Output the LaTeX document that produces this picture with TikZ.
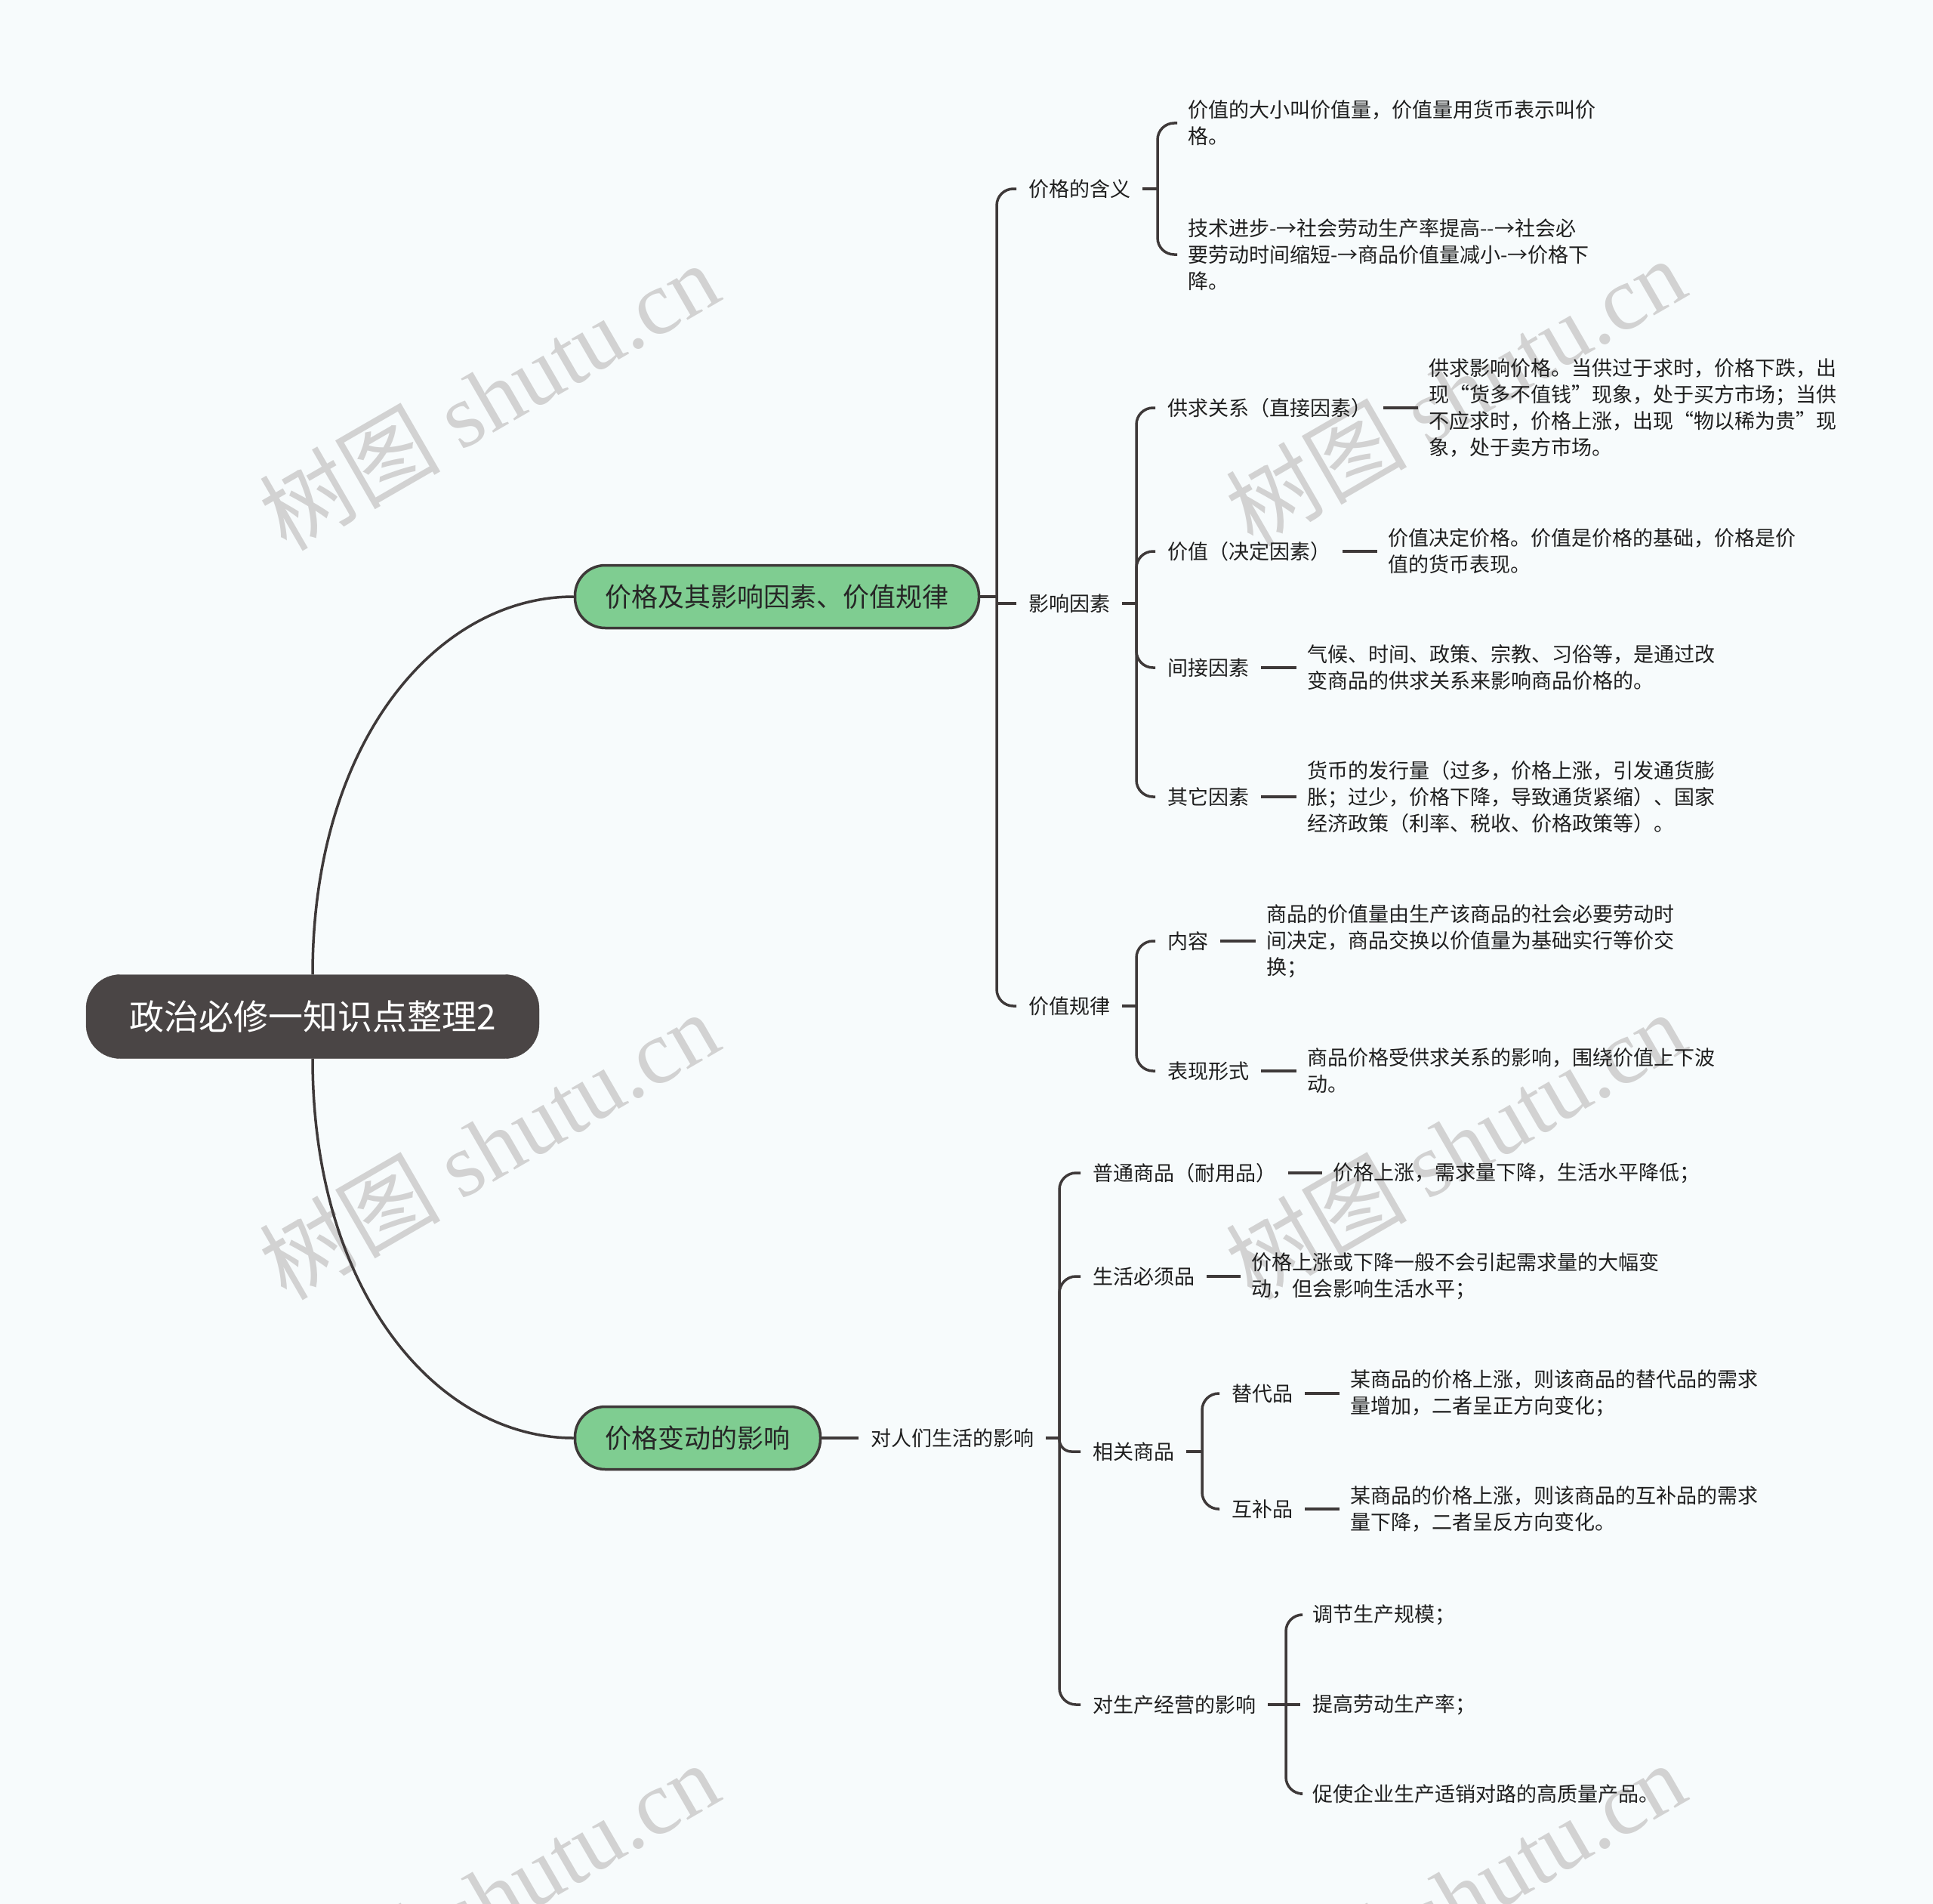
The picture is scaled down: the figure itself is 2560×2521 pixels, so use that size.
\documentclass[tikz,border=0pt]{standalone}
\usepackage{fontspec}
\setmainfont{Noto Sans CJK SC}
\newfontfamily\wmlatin{Liberation Serif}
\definecolor{bg}{HTML}{F7FBFC}
\definecolor{lnc}{HTML}{3E3939}
\definecolor{rootc}{HTML}{4A4545}
\definecolor{grn}{HTML}{7FCD91}
\definecolor{wmc}{HTML}{D2D2D2}
\tikzset{
  conn/.style={draw=lnc, line width=3.5pt},
  elbow/.style={conn, rounded corners=22pt},
  rootbox/.style={fill=rootc, draw=rootc, rounded corners=45pt, minimum width=600pt, minimum height=111pt, text=white, font=\fontsize{46pt}{56pt}\selectfont, inner sep=0pt},
  topic/.style={fill=grn, draw=lnc, line width=3.5pt, rounded corners=40pt, minimum height=83pt, inner xsep=40pt, inner ysep=0pt, text=black!85, font=\fontsize{35pt}{42pt}\selectfont},
  lbl/.style={anchor=west, inner xsep=16pt, inner ysep=4pt, font=\fontsize{27pt}{35pt}\selectfont, text=black!88},
  desc/.style={anchor=west, inner xsep=14pt, inner ysep=4pt, align=left, font=\fontsize{27pt}{35pt}\selectfont, text=black!88},
  wm/.style={rotate=30, text=wmc, font=\fontsize{120pt}{120pt}\selectfont}
}
\begin{document}
\begin{tikzpicture}[x=1pt,y=-1pt]
\fill[bg] (0,0) rectangle (2560,2521);
\useasboundingbox (0,0) rectangle (2560,2521);

% watermarks
\node[wm] (w1) at (647,524) {树图 {\wmlatin shutu.cn}};
\node[wm] (w2) at (1927,518) {树图 {\wmlatin shutu.cn}};
\node[wm] (w3) at (647,1516) {树图 {\wmlatin shutu.cn}};
\node[wm] (w4) at (1927,1516) {树图 {\wmlatin shutu.cn}};
\node[wm] (w5) at (647,2510) {树图 {\wmlatin shutu.cn}};
\node[wm] (w6) at (1927,2510) {树图 {\wmlatin shutu.cn}};

% main nodes
\node[rootbox] (root) at (414,1346) {政治必修一知识点整理2};
\node[topic, minimum width=534pt] (t1) at (1029,790) {价格及其影响因素、价值规律};
\node[topic, minimum width=324pt] (t2) at (924,1904) {价格变动的影响};

% branch 1
\node[lbl] (a1) at (1346,250) {价格的含义};
\node[lbl] (a2) at (1346,799) {影响因素};
\node[lbl] (a3) at (1346,1332) {价值规律};

\node[desc] (a1d1) at (1559,163) {价值的大小叫价值量，价值量用货币表示叫价\\格。};
\node[desc] (a1d2) at (1559,337) {技术进步{-}→社会劳动生产率提高{-}{-}→社会必\\要劳动时间缩短{-}→商品价值量减小{-}→价格下\\降。};

\node[lbl] (b1) at (1530,540) {供求关系（直接因素）};
\node[desc] (b1d) at (1878,540) {供求影响价格。当供过于求时，价格下跌，出\\现“货多不值钱”现象，处于买方市场；当供\\不应求时，价格上涨，出现“物以稀为贵”现\\象，处于卖方市场。};
\node[lbl] (b2) at (1530,730) {价值（决定因素）};
\node[desc] (b2d) at (1824,730) {价值决定价格。价值是价格的基础，价格是价\\值的货币表现。};
\node[lbl] (b3) at (1530,884) {间接因素};
\node[desc] (b3d) at (1717,884) {气候、时间、政策、宗教、习俗等，是通过改\\变商品的供求关系来影响商品价格的。};
\node[lbl] (b4) at (1530,1055) {其它因素};
\node[desc] (b4d) at (1717,1055) {货币的发行量（过多，价格上涨，引发通货膨\\胀；过少，价格下降，导致通货紧缩）、国家\\经济政策（利率、税收、价格政策等）。};

\node[lbl] (c1) at (1530,1246) {内容};
\node[desc] (c1d) at (1663,1246) {商品的价值量由生产该商品的社会必要劳动时\\间决定，商品交换以价值量为基础实行等价交\\换；};
\node[lbl] (c2) at (1530,1418) {表现形式};
\node[desc] (c2d) at (1717,1418) {商品价格受供求关系的影响，围绕价值上下波\\动。};

% branch 2
\node[lbl] (d0) at (1137,1904) {对人们生活的影响};
\node[lbl] (e1) at (1431,1553) {普通商品（耐用品）};
\node[desc] (e1d) at (1751,1553) {价格上涨，需求量下降，生活水平降低；};
\node[lbl] (e2) at (1431,1690) {生活必须品};
\node[desc] (e2d) at (1643,1690) {价格上涨或下降一般不会引起需求量的大幅变\\动，但会影响生活水平；};
\node[lbl] (e3) at (1431,1922) {相关商品};
\node[lbl] (f1) at (1615,1845) {替代品};
\node[desc] (f1d) at (1774,1845) {某商品的价格上涨，则该商品的替代品的需求\\量增加，二者呈正方向变化；};
\node[lbl] (f2) at (1615,1998) {互补品};
\node[desc] (f2d) at (1774,1998) {某商品的价格上涨，则该商品的互补品的需求\\量下降，二者呈反方向变化。};
\node[lbl] (e4) at (1431,2257) {对生产经营的影响};
\node[lbl] (g1) at (1722,2138) {调节生产规模；};
\node[lbl] (g2) at (1722,2257) {提高劳动生产率；};
\node[lbl] (g3) at (1722,2375) {促使企业生产适销对路的高质量产品。};

% root connectors
\draw[conn] (root.north) .. controls (414,980) and (580,790) .. (t1.west);
\draw[conn] (root.south) .. controls (414,1713) and (580,1904) .. (t2.west);

% branch 1 connectors
\coordinate (s1) at (1320,790);
\draw[conn] (t1.east) -- (s1);
\draw[elbow] (s1) |- (a1.west);
\draw[conn] (s1 |- a2.west) -- (a2.west);
\draw[elbow] (s1) |- (a3.west);

\coordinate (s2) at (1533,250);
\draw[conn] (a1.east) -- (s2);
\draw[elbow] (s2) |- (a1d1.west);
\draw[elbow] (s2) |- (a1d2.west);

\coordinate (s3) at (1505,799);
\draw[conn] (a2.east) -- (s3);
\draw[elbow] (s3) |- (b1.west);
\draw[elbow] (s3) |- (b2.west);
\draw[elbow] (s3) |- (b3.west);
\draw[elbow] (s3) |- (b4.west);
\draw[conn] (b1.east) -- (b1d.west);
\draw[conn] (b2.east) -- (b2d.west);
\draw[conn] (b3.east) -- (b3d.west);
\draw[conn] (b4.east) -- (b4d.west);

\coordinate (s4) at (1505,1332);
\draw[conn] (a3.east) -- (s4);
\draw[elbow] (s4) |- (c1.west);
\draw[elbow] (s4) |- (c2.west);
\draw[conn] (c1.east) -- (c1d.west);
\draw[conn] (c2.east) -- (c2d.west);

% branch 2 connectors
\draw[conn] (t2.east) -- (d0.west);
\coordinate (s5) at (1403,1904);
\draw[conn] (d0.east) -- (s5);
\draw[elbow] (s5) |- (e1.west);
\draw[elbow] (s5) |- (e2.west);
\draw[conn, rounded corners=16pt] (s5) |- (e3.west);
\draw[elbow] (s5) |- (e4.west);
\draw[conn] (e1.east) -- (e1d.west);
\draw[conn] (e2.east) -- (e2d.west);

\coordinate (s6) at (1592,1922);
\draw[conn] (e3.east) -- (s6);
\draw[elbow] (s6) |- (f1.west);
\draw[elbow] (s6) |- (f2.west);
\draw[conn] (f1.east) -- (f1d.west);
\draw[conn] (f2.east) -- (f2d.west);

\coordinate (s7) at (1703,2257);
\draw[conn] (e4.east) -- (s7);
\draw[elbow] (s7) |- (g1.west);
\draw[conn] (s7) -- (g2.west);
\draw[elbow] (s7) |- (g3.west);
\end{tikzpicture}
\end{document}
